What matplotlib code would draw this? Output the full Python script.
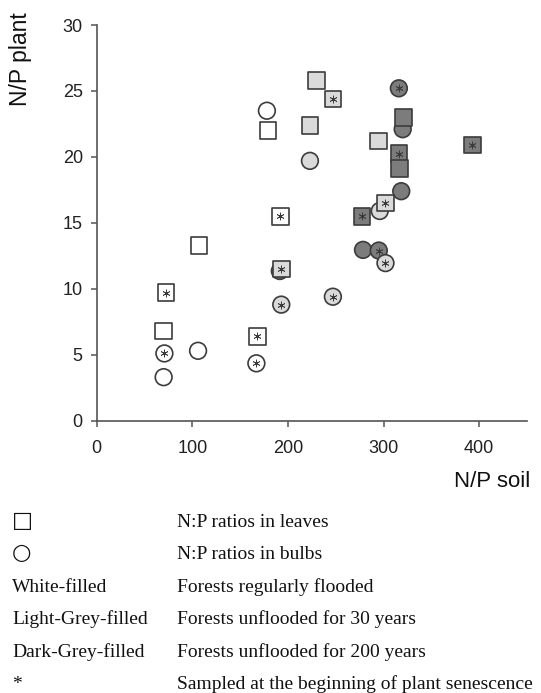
import matplotlib
matplotlib.use("Agg")
import matplotlib.pyplot as plt

# N/P ratios in leaves (squares); fill: W white, L light grey, D dark grey
leaf_soil = [70, 107, 168, 179, 72.6, 192, 230, 223, 247, 295, 193, 302,
             321, 316, 317, 277.5, 393]
leaf_plant = [6.8, 13.3, 6.4, 22.0, 9.7, 15.5, 25.8, 22.4, 24.4, 21.2, 11.5, 16.5,
              23.0, 20.25, 19.1, 15.5, 20.9]
leaf_fill = ["W", "W", "W", "W", "W", "W", "L", "L", "L", "L", "L", "L",
             "D", "D", "D", "D", "D"]
leaf_star = [False, False, True, False, True, True, False, False, True, False, True, True,
             False, True, False, True, True]

# N/P ratios in bulbs (circles)
bulb_soil = [70, 70.8, 106, 167, 178, 191.5, 223, 193, 247, 296,
             316, 320, 318.5, 278.5, 295, 302]
bulb_plant = [3.3, 5.1, 5.3, 4.35, 23.5, 11.35, 19.7, 8.8, 9.4, 15.9,
              25.2, 22.1, 17.4, 12.95, 12.9, 11.95]
bulb_fill = ["W", "W", "W", "W", "W", "D", "L", "L", "L", "L",
             "D", "D", "D", "D", "D", "L"]
bulb_star = [False, True, False, True, False, False, False, True, True, False,
             True, False, False, False, True, True]

x_ticks = [0, 100, 200, 300, 400]
y_ticks = [0, 5, 10, 15, 20, 25, 30]

legend_keys = ["\u25a1", "\u25cb", "White-filled", "Light-Grey-filled",
               "Dark-Grey-filled", "*"]
legend_texts = ["N:P ratios in leaves", "N:P ratios in bulbs",
                "Forests regularly flooded", "Forests unflooded for 30 years",
                "Forests unflooded for 200 years",
                "Sampled at the beginning of plant senescence"]

FILL = {"W": "#ffffff", "L": "#dadada", "D": "#7c7c7c"}
EDGE = "#3c3c3c"
W, H = 541, 693

fig = plt.figure(figsize=(W / 100, H / 100), dpi=100)
ax = fig.add_axes([96.7 / W, 1 - 420.7 / H, (527 - 96.7) / W, (420.7 - 25) / H])


def draw(xs, ys, fills, stars, marker):
    ax.scatter(xs, ys, s=145, marker=marker, c=[FILL[f] for f in fills],
               edgecolors=EDGE, linewidths=1.2, zorder=3, clip_on=False)
    sx = [x for x, st in zip(xs, stars) if st]
    sy = [y for y, st in zip(ys, stars) if st]
    ax.scatter(sx, sy, s=26, marker=(6, 2, 0), c="#3a3a3a", linewidths=0.55,
               zorder=4, clip_on=False)


draw(bulb_soil, bulb_plant, bulb_fill, bulb_star, "o")
draw(leaf_soil, leaf_plant, leaf_fill, leaf_star, "s")

ax.set_xlim(0, 450)
ax.set_ylim(0, 30)
ax.set_xticks(x_ticks)
ax.set_yticks(y_ticks)
for side in ("top", "right"):
    ax.spines[side].set_visible(False)
for side in ("left", "bottom"):
    ax.spines[side].set_color("#555555")
    ax.spines[side].set_linewidth(1.2)
ax.tick_params(axis="both", colors="#555555", length=4, width=1.1,
               labelsize=13, labelcolor="#222222")
ax.tick_params(axis="x", pad=10)
ax.tick_params(axis="y", pad=6)
for lab in ax.get_xticklabels() + ax.get_yticklabels():
    lab.set_family("Liberation Sans")

fig.text(21 / W, 1 - 59 / H, "N/P plant", rotation=90, ha="center", va="center",
         fontsize=16.5, family="Liberation Sans", color="#111111")
fig.text(530 / W, 1 - 486.7 / H, "N/P soil", ha="right", va="baseline",
         fontsize=16, family="Liberation Sans", color="#111111")

for i, (key, txt) in enumerate(zip(legend_keys, legend_texts)):
    base = 1 - (526.7 + 32.5 * i) / H
    fam = ["DejaVu Sans"] if i < 2 else ["Liberation Serif"]
    fig.text(12 / W, base, key, ha="left", va="baseline", fontsize=14 if i >= 2 else 16,
             family=fam, color="#111111")
    fig.text(177 / W, base, txt, ha="left", va="baseline", fontsize=14,
             family="Liberation Serif", color="#111111")

fig.savefig("out.png", dpi=100, facecolor="white")
